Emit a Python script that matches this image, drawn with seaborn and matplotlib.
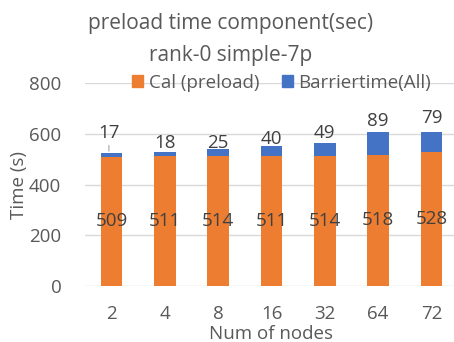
import matplotlib
matplotlib.use("Agg")
import matplotlib.pyplot as plt
import pandas as pd
import seaborn as sns

nodes = ["2", "4", "8", "16", "32", "64", "72"]
cal_preload = [509, 511, 514, 511, 514, 518, 528]
barrier_time = [17, 18, 25, 40, 49, 89, 79]

# label offsets above the stacked bar (points), first one uses a leader line
top_label_pad = [14, 6.5, 4.5, 5, 7, 8, 10]

ORANGE = "#ED7D31"
BLUE = "#4472C4"
TEXT = "#595959"
LABEL = "#404040"

df = pd.DataFrame({
    "nodes": nodes,
    "cal": cal_preload,
    "barrier": barrier_time,
})
df["total"] = df["cal"] + df["barrier"]

sns.set_style("white")
plt.rcParams["font.family"] = ["Open Sans", "DejaVu Sans"]

fig = plt.figure(figsize=(4.54, 3.42), dpi=100)
ax = fig.add_axes([0.187, 0.164, 0.822, 0.593])

# stacked bars: total in blue, calc in orange drawn over it
sns.barplot(data=df, x="nodes", y="total", color=BLUE, width=0.41,
            saturation=1, ax=ax, zorder=2, linewidth=0)
sns.barplot(data=df, x="nodes", y="cal", color=ORANGE, width=0.41,
            saturation=1, ax=ax, zorder=3, linewidth=0)

ax.set_ylim(0, 800)
ax.set_yticks([0, 200, 400, 600, 800])
ax.yaxis.grid(True, color="#D9D9D9", linewidth=1)
ax.set_axisbelow(True)
for s in ax.spines.values():
    s.set_visible(False)
ax.tick_params(axis="y", length=0, pad=17, labelsize=13.5, labelcolor=TEXT)
ax.tick_params(axis="x", length=0, pad=14, labelsize=13.5, labelcolor=TEXT)
ax.set_xlabel("Num of nodes", fontsize=13.5, color=TEXT, labelpad=1)
ax.set_ylabel("Time (s)", fontsize=13.5, color=TEXT, labelpad=1)

# value labels
for i, (c, b) in enumerate(zip(df["cal"], df["barrier"])):
    ax.text(i, c / 2, str(c), ha="center", va="center", fontsize=13.5,
            color=LABEL, zorder=5)
    if i == 0:
        ax.annotate(str(b), xy=(i - 0.05, c + b), xytext=(0, top_label_pad[i]),
                    textcoords="offset points", ha="center", va="center",
                    fontsize=13.5, color=LABEL, zorder=5,
                    arrowprops=dict(arrowstyle="-", color="#A6A6A6", lw=0.8,
                                    shrinkA=7, shrinkB=1))
    else:
        ax.annotate(str(b), xy=(i, c + b), xytext=(0, top_label_pad[i]),
                    textcoords="offset points", ha="center", va="center",
                    fontsize=13.5, color=LABEL, zorder=5)

fig.text(0.507, 1 - 23 / 342, "preload time component(sec)", ha="center",
         va="center", fontsize=15, color=TEXT)
fig.text(0.507, 1 - 56 / 342, "rank-0 simple-7p", ha="center",
         va="center", fontsize=15, color=TEXT)

handles = [plt.Rectangle((0, 0), 1, 1, color=ORANGE),
           plt.Rectangle((0, 0), 1, 1, color=BLUE)]
fig.legend(handles, ["Cal (preload)", "Barriertime(All)"], loc="center",
           bbox_to_anchor=(0.62, 1 - 83 / 342), ncol=2, frameon=False,
           fontsize=13.5, labelcolor=TEXT, handlelength=0.6, handleheight=0.6,
           handletextpad=0.3, columnspacing=1.2)

fig.savefig("out.png", dpi=100)
